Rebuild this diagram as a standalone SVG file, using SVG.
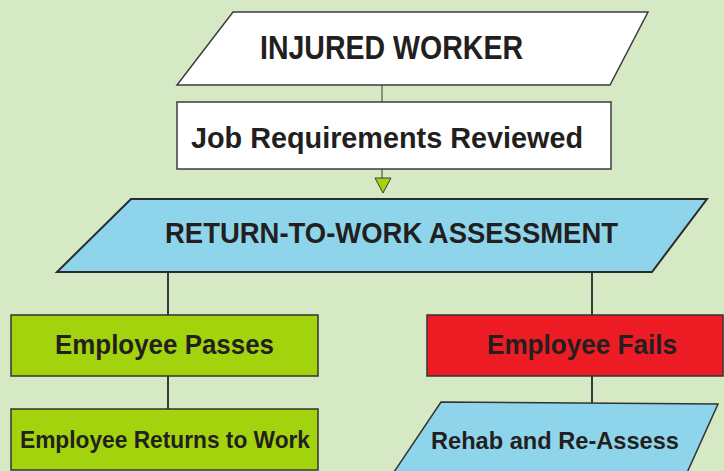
<svg xmlns="http://www.w3.org/2000/svg" width="724" height="471" viewBox="0 0 724 471">
<style>
.t{font-family:"Liberation Sans",Arial,sans-serif;font-weight:bold;fill:#231f20;}
.sh{stroke:#2b2b2b;stroke-width:2;stroke-linejoin:miter;}
.w{fill:#ffffff;stroke:#3c3c3c;stroke-width:1.5;}
.b{fill:#8ed5ec;}
.g{fill:#a3d30c;stroke:#333;stroke-width:1.5;}
.r{fill:#ed1c24;stroke:#333;stroke-width:1.5;}
.c{stroke:#3a3a3a;fill:none;}
</style>
<rect x="0" y="0" width="724" height="471" fill="#d5e9c5"/>
<g id="connectors">
<line class="c" x1="382" y1="85" x2="382" y2="102" stroke-width="1"/>
<line class="c" x1="382" y1="169" x2="382" y2="178" stroke-width="1"/>
<polygon points="375,178 391,178 383,193" fill="#a3d30c" stroke="#3a3a3a" stroke-width="1"/>
<line class="c" x1="168" y1="272" x2="168" y2="315" stroke-width="2"/>
<line class="c" x1="592" y1="272" x2="592" y2="315" stroke-width="2"/>
<line class="c" x1="168" y1="376" x2="168" y2="409" stroke-width="2"/>
<line class="c" x1="592" y1="376" x2="592" y2="403" stroke-width="2"/>
</g>
<g id="injured-worker">
<polygon class="w" points="233,12 648,12 610,85 177,85" stroke-width="2"/>
<text class="t" x="260" y="59" font-size="33" textLength="263" lengthAdjust="spacingAndGlyphs">INJURED WORKER</text>
</g>
<g id="job-requirements">
<rect class="w" x="177" y="102" width="434" height="67"/>
<text class="t" x="191" y="148" font-size="30" textLength="392" lengthAdjust="spacingAndGlyphs">Job Requirements Reviewed</text>
</g>
<g id="rtw-assessment">
<polygon class="b sh" points="131,199 707,199 652,272 57,272" stroke-width="2.5"/>
<text class="t" x="165" y="243" font-size="30" textLength="453" lengthAdjust="spacingAndGlyphs">RETURN-TO-WORK ASSESSMENT</text>
</g>
<g id="employee-passes">
<rect class="g" x="11" y="315" width="307" height="61"/>
<text class="t" x="55" y="354" font-size="27" textLength="219" lengthAdjust="spacingAndGlyphs">Employee Passes</text>
</g>
<g id="employee-fails">
<rect class="r" x="427" y="315" width="296" height="61"/>
<text class="t" x="487" y="354" font-size="27" textLength="190" lengthAdjust="spacingAndGlyphs">Employee Fails</text>
</g>
<g id="employee-returns">
<rect class="g" x="11" y="409" width="307" height="61"/>
<text class="t" x="20" y="448" font-size="24" textLength="290" lengthAdjust="spacingAndGlyphs">Employee Returns to Work</text>
</g>
<g id="rehab">
<polygon class="b" points="441,402 718,404 686,475 392,475" stroke="#333" stroke-width="1.5"/>
<text class="t" x="431" y="449" font-size="24" textLength="248" lengthAdjust="spacingAndGlyphs">Rehab and Re-Assess</text>
</g>
</svg>
